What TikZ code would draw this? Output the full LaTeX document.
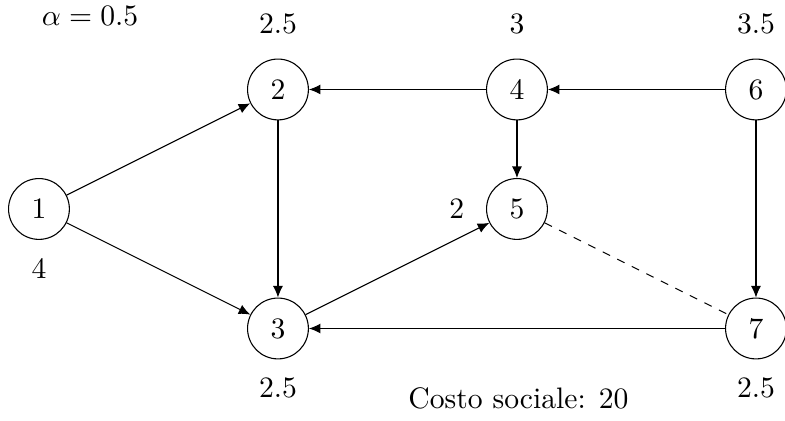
\documentclass[tikz,border=0pt]{standalone}
\usepackage{amsmath}
\usepackage{tikz}
\usetikzlibrary{positioning,arrows.meta}

\begin{document}
\begin{tikzpicture}[node distance=3.104cm, on grid, >={Latex[length=1.5mm,width=1.3mm]}, every node/.style={font=\fontsize{10.95}{13.6}\selectfont}]
\tikzstyle{vertex}=[circle, draw, minimum size=0.79cm, inner sep=0pt]
\tikzstyle{costup}=[label distance=0.19cm]
\tikzstyle{costdown}=[label distance=0.11cm]
\tikzstyle{costleft}=[label distance=0.16cm]
\useasboundingbox (0,0) rectangle (10.195,-5.455);
\node[vertex, label={[costdown]below:4}] (n1) at (0.506,-2.714) {1};
\node[vertex, above right=1.552cm and 3.104cm of n1, label={[costup]above:2.5}] (n2) {2};
\node[vertex, below=3.104cm of n2, label={[costdown]below:2.5}] (n3) {3};
\node[vertex, right=of n2, label={[costup]above:3}] (n4) {4};
\node[vertex, below=1.552cm of n4, label={[costleft]left:2}] (n5) {5};
\node[vertex, right=of n4, label={[costup]above:3.5}] (n6) {6};
\node[vertex, below=3.104cm of n6, label={[costdown]below:2.5}] (n7) {7};
\node (alpha) at (1.169,-0.208) {$\alpha=0.5$};
\node (total) at (6.734,-5.169) {Costo sociale: 20};
\draw[->] (n1) -- (n2);
\draw[->] (n1) -- (n3);
\draw[->] (n2) -- (n3);
\draw[->] (n3) -- (n5);
\draw[->] (n4) -- (n2);
\draw[->] (n4) -- (n5);
\draw[->] (n6) -- (n4);
\draw[->] (n6) -- (n7);
\draw[->] (n7) -- (n3);
\draw[dashed] (n5) -- (n7);
\end{tikzpicture}
\end{document}
